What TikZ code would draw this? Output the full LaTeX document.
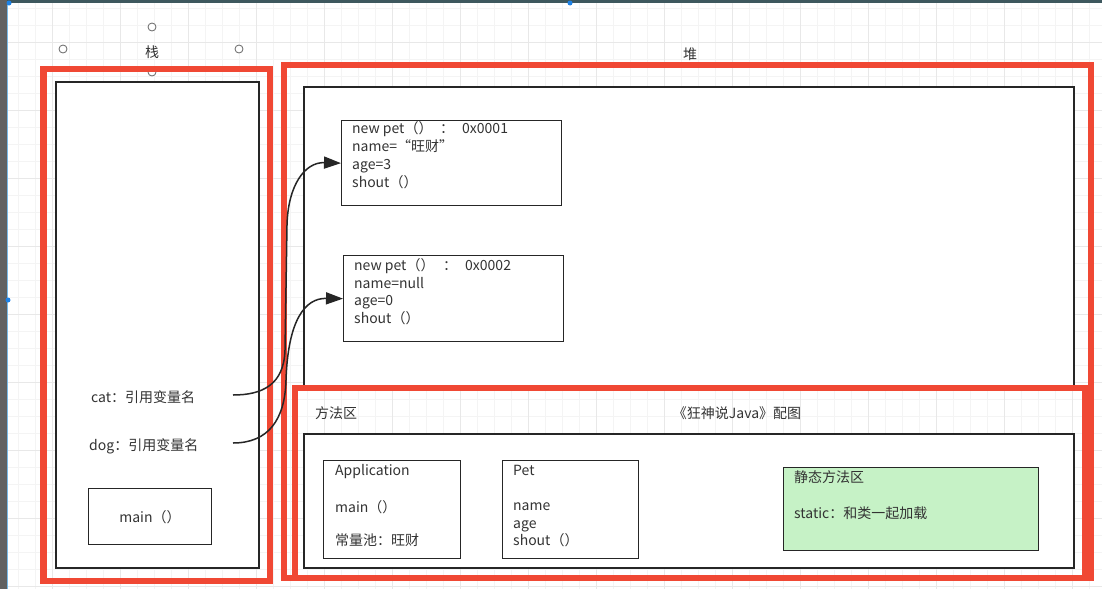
\documentclass[tikz,border=0pt]{standalone}
\usepackage{fontspec}
\setmainfont{Noto Sans CJK SC}
\usetikzlibrary{arrows.meta}
\definecolor{redline}{RGB}{240,72,52}
\definecolor{txt}{RGB}{51,51,51}
\definecolor{greenfill}{RGB}{198,242,198}
\definecolor{gridminor}{RGB}{244,244,244}
\definecolor{gridmajor}{RGB}{232,232,232}
\definecolor{topbar}{RGB}{62,88,94}
\definecolor{handleblue}{RGB}{30,130,230}
\definecolor{edgeblue}{RGB}{120,185,230}
\tikzset{
  redbox/.style={draw=redline, line width=6.5pt},
  innerbox/.style={draw=black!85, line width=1.4pt, fill=white},
  objbox/.style={draw=black!85, line width=1.3pt, fill=white, inner sep=0pt},
  greenbox/.style={draw=black!85, line width=1.3pt, fill=greenfill, inner sep=0pt},
  lbl/.style={text=txt, font=\fontsize{14}{18}\selectfont, inner sep=0pt},
  handle/.style={circle, draw=black!60, fill=white, minimum size=8pt, inner sep=0pt, line width=0.8pt},
  refarrow/.style={draw=black!85, line width=1.5pt, -{Triangle[length=17pt,width=12pt]}},
  minorline/.style={draw=gridminor, line width=0.7pt},
  majorline/.style={draw=gridmajor, line width=0.8pt},
}
\begin{document}
\begin{tikzpicture}[x=1pt,y=-1pt]
\useasboundingbox (0,0) rectangle (1102,589);
\fill[white] (0,0) rectangle (1102,589);
% grid
\foreach \gx in {1,18,...,1102} { \draw[minorline] (\gx,3) -- (\gx,589); }
\foreach \gy in {8,25,...,589} { \draw[minorline] (0,\gy) -- (1102,\gy); }
\foreach \gx in {52,120,...,1102} { \draw[majorline] (\gx,3) -- (\gx,589); }
\foreach \gy in {42,110,...,589} { \draw[majorline] (0,\gy) -- (1102,\gy); }
% window chrome
\fill[topbar] (0,0) rectangle (1102,3);
\fill[black!62] (0,0) rectangle (7,589);
\draw[edgeblue, line width=1pt] (7.5,3) -- (7.5,589);
\fill[handleblue] (9,3) circle (2.5);
\fill[handleblue] (570,3) circle (2.5);
\fill[handleblue] (8,300) circle (2.5);
% selection handles around the stack label
\node[handle] (h1) at (152,27) {};
\node[handle] (h2) at (63,49) {};
\node[handle] (h3) at (239,49) {};
\node[handle] (h4) at (152,72) {};
\node[lbl] (stacklbl) at (152,52) {栈};
\node[lbl] (heaplbl) at (690,54) {堆};
% stack
\draw[redbox] (43.5,69) rectangle (270,581);
\draw[innerbox] (56,82) rectangle (259,568);
% heap
\draw[redbox] (284,65) rectangle (1091,578);
\draw[innerbox] (304,87) rectangle (1074,388);
% method area
\draw[redbox] (295,388) rectangle (1085,578);
\draw[innerbox] (304,434) rectangle (1074,568);
% stack contents
\node[lbl, anchor=base west] (cat) at (91,402) {cat：引用变量名};
\node[lbl, anchor=base west] (dog) at (89,450) {dog：引用变量名};
\coordinate (catS) at (233,395);
\coordinate (dogS) at (233,443);
\node[objbox, anchor=north west, minimum width=123pt, minimum height=56pt] (mainbox) at (88,488) {};
\node[lbl] (maintxt) at (150,517) {main（）};
% object 1
\node[objbox, anchor=north west, minimum width=220pt, minimum height=85pt] (obj1) at (341,120) {};
\node[lbl, anchor=base west] (o1a) at (352,133) {new pet（）};
\node[lbl, anchor=base] (o1b) at (447,133) {：};
\node[lbl, anchor=base west] (o1c) at (462,133) {0x0001};
\node[lbl, anchor=base west] (o1d) at (352,151) {name=“旺财”};
\node[lbl, anchor=base west] (o1e) at (352,169) {age=3};
\node[lbl, anchor=base west] (o1f) at (352,187) {shout（）};
% object 2
\node[objbox, anchor=north west, minimum width=220pt, minimum height=86pt] (obj2) at (343,255) {};
\node[lbl, anchor=base west] (o2a) at (354,270) {new pet（）};
\node[lbl, anchor=base] (o2b) at (450,270) {：};
\node[lbl, anchor=base west] (o2c) at (465,270) {0x0002};
\node[lbl, anchor=base west] (o2d) at (354,288) {name=null};
\node[lbl, anchor=base west] (o2e) at (354,305) {age=0};
\node[lbl, anchor=base west] (o2f) at (354,323) {shout（）};
% method area labels
\node[lbl, anchor=base west] (mlbl) at (315,418) {方法区};
\node[lbl, anchor=base] (cap) at (737,418) {《狂神说Java》配图};
% Application
\node[objbox, anchor=north west, minimum width=137pt, minimum height=98pt] (app) at (323,460) {};
\node[lbl, anchor=base west] (app1) at (335,475) {Application};
\node[lbl, anchor=base west] (app2) at (335,512) {main（）};
\node[lbl, anchor=base west] (app3) at (335,545) {常量池：旺财};
% Pet
\node[objbox, anchor=north west, minimum width=136pt, minimum height=98pt] (pet) at (502,460) {};
\node[lbl, anchor=base west] (pet1) at (513,475) {Pet};
\node[lbl, anchor=base west] (pet2) at (513,510) {name};
\node[lbl, anchor=base west] (pet3) at (513,528) {age};
\node[lbl, anchor=base west] (pet4) at (513,545) {shout（）};
% static
\node[greenbox, anchor=north west, minimum width=255pt, minimum height=83pt] (stat) at (783,467) {};
\node[lbl, anchor=base west] (st1) at (794,482) {静态方法区};
\node[lbl, anchor=base west] (st2) at (794,518) {static：和类一起加载};
% references
\draw[refarrow] (catS) .. controls (262,395) and (284,385) .. (285,350) -- (287,225) .. controls (288,185) and (305,162) .. (obj1.west);
\draw[refarrow] (dogS) .. controls (268,443) and (285,420) .. (286,380) .. controls (288,320) and (305,298) .. (obj2.west);
\end{tikzpicture}
\end{document}
